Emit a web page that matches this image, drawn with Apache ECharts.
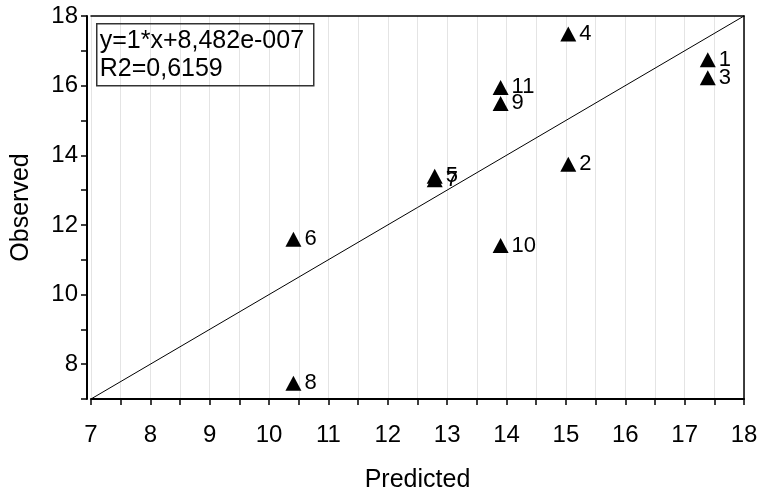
<!DOCTYPE html>
<html>
<head>
<meta charset="utf-8">
<script src="https://cdn.jsdelivr.net/npm/echarts@6/dist/echarts.min.js"></script>
<style>
  html, body { margin: 0; padding: 0; background: #fff; }
  #chart { width: 760px; height: 493px; }
</style>
</head>
<body>
<div id="chart"></div>
<script>
// Sample identifiers and their predicted / observed values
const sampleIds = ['1', '2', '3', '4', '5', '6', '7', '8', '9', '10', '11'];
const predicted = [17.39, 15.04, 17.39, 15.04, 12.79, 10.41, 12.79, 10.41, 13.90, 13.90, 13.90];
const observed  = [16.74, 13.74, 16.23, 17.48, 13.40, 11.59, 13.30, 7.45, 15.49, 11.41, 15.95];

// Fitted line and its statistics
const fitSlope = 1;
const fitIntercept = 8.482e-7;
const fitLabels = ['y=1*x+8,482e-007', 'R2=0,6159'];

// Axis ranges
const xRange = [7, 18];
const yRange = [7, 18];
const axisTitles = ['Predicted', 'Observed'];

const FONT = '"Liberation Sans", Arial, sans-serif';
const chart = echarts.init(document.getElementById('chart'), null, { renderer: 'canvas' });

const fitLine = xRange.map(x => [x, fitSlope * x + fitIntercept]);
const points = sampleIds.map((id, i) => [predicted[i], observed[i], id]);

chart.setOption({
  animation: false,
  backgroundColor: '#fff',
  grid: { left: 91, right: 16, top: 16, bottom: 94, outerBoundsMode: 'none', containLabel: false },
  xAxis: [{
    type: 'value', min: xRange[0], max: xRange[1], interval: 1,
    name: axisTitles[0], nameLocation: 'middle', nameGap: 69,
    nameTextStyle: { fontFamily: FONT, fontSize: 25, color: '#000' },
    axisLine: { lineStyle: { color: '#000', width: 2 } },
    axisTick: { length: 6, lineStyle: { color: '#000', width: 1.5 } },
    minorTick: { show: true, splitNumber: 2, length: 6, lineStyle: { color: '#000', width: 1.5 } },
    splitLine: { show: true, lineStyle: { color: '#e4e4e4', width: 1 } },
    minorSplitLine: { show: true, lineStyle: { color: '#e4e4e4', width: 1 } },
    axisLabel: { fontFamily: FONT, fontSize: 24, color: '#000', margin: 24 }
  }, {
    type: 'value', min: xRange[0], max: xRange[1], position: 'top',
    axisLine: { show: true, lineStyle: { color: '#000', width: 1.5 } },
    axisTick: { show: false }, axisLabel: { show: false }, splitLine: { show: false }
  }],
  yAxis: [{
    type: 'value', min: yRange[0], max: yRange[1], interval: 1, offset: 4,
    name: axisTitles[1], nameLocation: 'middle', nameGap: 53, nameRotate: 90,
    nameTextStyle: { fontFamily: FONT, fontSize: 25, color: '#000' },
    axisLine: { lineStyle: { color: '#000', width: 2 } },
    axisTick: { length: 6, lineStyle: { color: '#000', width: 1.5 } },
    splitLine: { show: false },
    axisLabel: {
      fontFamily: FONT, fontSize: 24, color: '#000', margin: 9,
      formatter: v => (v % 2 === 0 ? String(v) : '')
    }
  }, {
    type: 'value', min: yRange[0], max: yRange[1], position: 'right',
    axisLine: { show: true, lineStyle: { color: '#000', width: 1.5 } },
    axisTick: { show: false }, axisLabel: { show: false }, splitLine: { show: false }
  }],
  series: [{
    type: 'line',
    data: fitLine,
    symbol: 'none',
    lineStyle: { color: '#000', width: 1 },
    silent: true,
    z: 2
  }, {
    type: 'scatter',
    data: points,
    symbol: 'triangle',
    symbolSize: [16, 15],
    itemStyle: { color: '#000', opacity: 1 },
    label: {
      show: true, position: 'right', distance: 3,
      fontFamily: FONT, fontSize: 22, color: '#000',
      formatter: p => p.value[2]
    },
    z: 3
  }],
  graphic: [{
    type: 'group', left: 96, top: 23, z: 10,
    children: [{
      type: 'rect', z: 10, shape: { x: 0, y: 0, width: 217, height: 62 },
      style: { fill: 'transparent', stroke: '#333', lineWidth: 1.5 }
    }, {
      type: 'text', z: 10, x: 3, y: 3,
      style: { text: fitLabels.join('\n'), font: '25px ' + FONT, fill: '#000', lineHeight: 28 }
    }]
  }]
});
</script>
</body>
</html>
